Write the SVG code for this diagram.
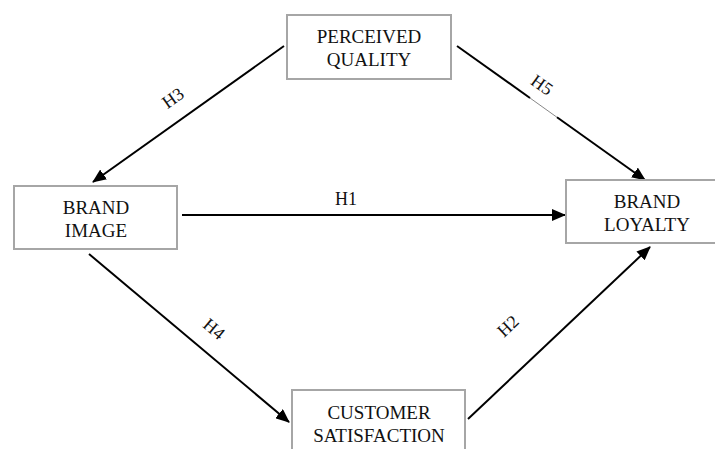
<svg xmlns="http://www.w3.org/2000/svg" width="715" height="449" viewBox="0 0 715 449">
<defs>
<style>
.box{fill:#fff;stroke:#a6a6a6;stroke-width:2}
.t{font-family:"Liberation Serif","Times New Roman",serif;font-size:19px;fill:#111;text-anchor:middle}
.lbl{font-family:"Liberation Serif","Times New Roman",serif;font-size:18px;fill:#111;text-anchor:middle}
.ln{stroke:#000;stroke-width:2;fill:none}
</style>
<marker id="ah" markerUnits="userSpaceOnUse" markerWidth="14" markerHeight="12" refX="13" refY="6" orient="auto">
<path d="M0,0 L14,6 L0,12 z" fill="#000"/>
</marker>
</defs>
<rect width="715" height="449" fill="#fff"/>
<g id="connectors">
<line class="ln" x1="284" y1="46" x2="93" y2="182" marker-end="url(#ah)"/>
<line class="ln" x1="457" y1="46" x2="530" y2="98"/>
<line x1="530" y1="98" x2="557" y2="117.3" stroke="#888" stroke-width="1"/>
<line class="ln" x1="557" y1="117.3" x2="645" y2="180" marker-end="url(#ah)"/>
<line class="ln" x1="182" y1="215" x2="565" y2="215" marker-end="url(#ah)"/>
<line class="ln" x1="89" y1="254" x2="289" y2="422" marker-end="url(#ah)"/>
<line class="ln" x1="468" y1="419" x2="650" y2="247" marker-end="url(#ah)"/>
<text class="lbl" transform="translate(173,98) rotate(-35.4)" y="6">H3</text>
<text class="lbl" transform="translate(542,85) rotate(35.4)" y="6">H5</text>
<text class="lbl" x="346" y="205">H1</text>
<text class="lbl" transform="translate(214,329) rotate(40)" y="6">H4</text>
<text class="lbl" transform="translate(508,326) rotate(-43)" y="6">H2</text>
</g>
<g id="perceived-quality">
<rect class="box" x="287" y="15" width="164" height="64"/>
<text class="t" x="369" y="43">PERCEIVED</text>
<text class="t" x="369" y="66">QUALITY</text>
</g>
<g id="brand-image">
<rect class="box" x="14" y="186" width="163" height="63"/>
<text class="t" x="96" y="214">BRAND</text>
<text class="t" x="96" y="237">IMAGE</text>
</g>
<g id="brand-loyalty">
<rect class="box" x="566" y="180" width="162" height="63"/>
<text class="t" x="647" y="208">BRAND</text>
<text class="t" x="647" y="231">LOYALTY</text>
</g>
<g id="customer-satisfaction">
<rect class="box" x="292" y="390" width="173" height="66"/>
<text class="t" x="379" y="419">CUSTOMER</text>
<text class="t" x="379" y="442">SATISFACTION</text>
</g>
</svg>
